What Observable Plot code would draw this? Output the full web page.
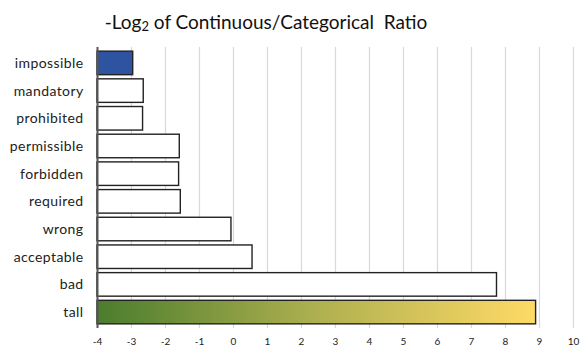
<!DOCTYPE html>
<html><head><meta charset="utf-8">
<script src="https://cdn.jsdelivr.net/npm/d3@7"></script>
<script src="https://cdn.jsdelivr.net/npm/@observablehq/plot@0.6"></script>
<style>
body{margin:0;background:#fff;font-family:Lato,sans-serif;}
#title{height:40px;width:532px;text-align:center;font-size:19px;line-height:44px;color:#111;overflow:hidden;}
#chart svg{display:block;}
.ylab text{letter-spacing:0.4px;}
</style></head><body>
<div id="title">-Log<sub style="font-size:13px;vertical-align:-2px;line-height:0">2</sub> of Continuous/Categorical&nbsp; Ratio</div>
<div id="chart"></div>
<script>
const categories = ["impossible","mandatory","prohibited","permissible","forbidden","required","wrong","acceptable","bad","tall"];
const values = [-2.95,-2.64,-2.66,-1.58,-1.6,-1.55,-0.06,0.56,7.75,8.9];
const fills = ["#2e54a1","#fff","#fff","#fff","#fff","#fff","#fff","#fff","#fff","url(#tallGrad)"];
const xTicks = d3.range(-4,11);
const data = categories.map((c,i)=>({cat:c,value:values[i],fill:fills[i]}));

const chart = Plot.plot({
  width:580, height:306,
  marginLeft:97, marginRight:7, marginTop:7, marginBottom:18,
  style:{fontFamily:"Lato, sans-serif", color:"#222", background:"#fff"},
  x:{domain:[-4,10], ticks:xTicks, tickFormat:d=>String(d)},
  y:{domain:categories, padding:0.15, round:false, label:null},
  marks:[
    Plot.gridX(xTicks.filter(d=>d>-4), {stroke:"#d9d9d9", strokeOpacity:1, strokeWidth:1.2}),
    Plot.barX(data,{y:"cat", x1:-4, x2:"value", fill:d=>d.fill, stroke:"#222", strokeWidth:1.4}),
    Plot.ruleX([-4],{stroke:"#555", strokeWidth:2}),
    Plot.axisX({ticks:xTicks, tickSize:0, tickPadding:9, fontSize:10, label:null, tickFormat:d=>String(d)}),
    Plot.axisY({tickSize:0, tickPadding:14, fontSize:14, label:null, className:"ylab"})
  ]
});
const ns="http://www.w3.org/2000/svg";
const defs=document.createElementNS(ns,"defs");
const g=document.createElementNS(ns,"linearGradient");
g.setAttribute("id","tallGrad");
[["0%","#4b7c2d"],["50%","#aeb04f"],["100%","#ffda66"]].forEach(([o,c])=>{const s=document.createElementNS(ns,"stop");s.setAttribute("offset",o);s.setAttribute("stop-color",c);g.appendChild(s);});
defs.appendChild(g);
chart.insertBefore(defs, chart.firstChild);
document.getElementById("chart").appendChild(chart);
</script></body></html>
